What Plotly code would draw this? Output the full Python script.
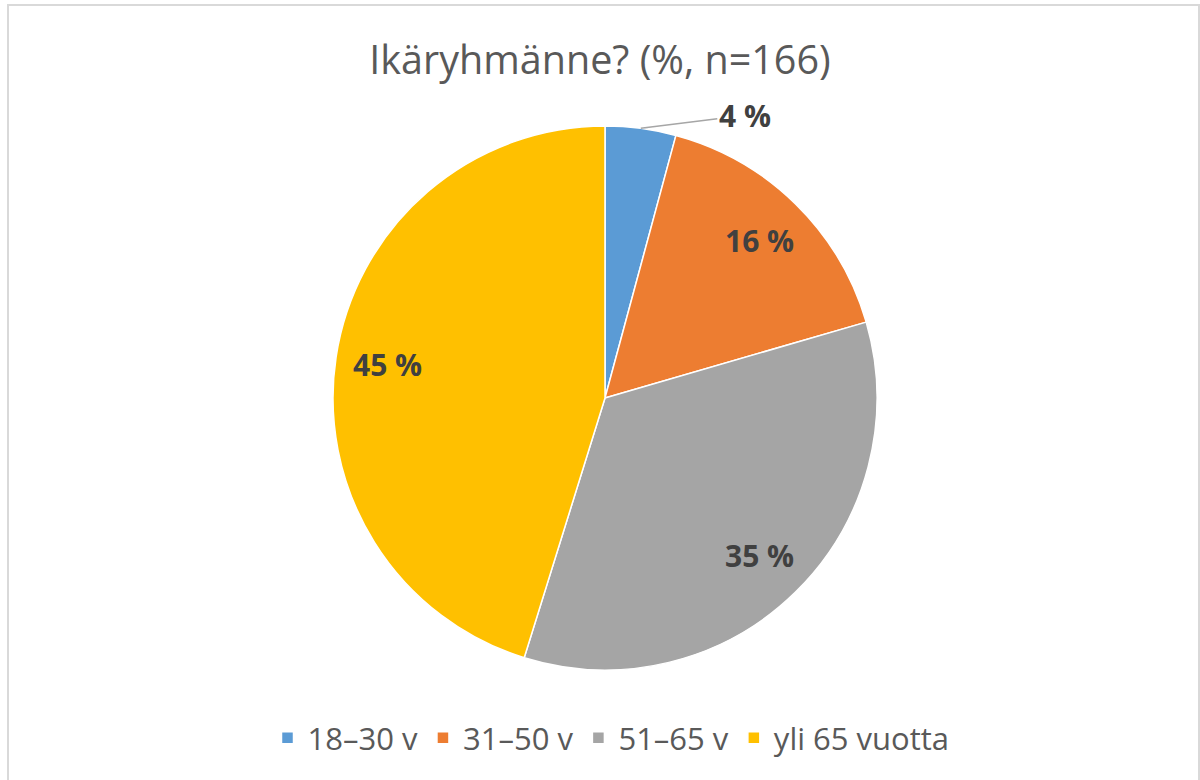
import math
import plotly.graph_objects as go

labels = ["18–30 v", "31–50 v", "51–65 v", "yli 65 vuotta"]
percents = [4.2, 16.3, 34.3, 45.2]          # slice sizes
text_labels = ["4 %", "16 %", "35 %", "45 %"]  # data labels as printed
colors = ["#5B9BD5", "#ED7D31", "#A5A5A5", "#FFC000"]
title_text = "Ikäryhmänne? (%, n=166)"

total = sum(percents)

W, H = 1200, 780
cx, cy, r = 605, 398, 272  # pie centre / radius in pixels

fig = go.Figure(go.Pie(
    labels=labels,
    values=percents,
    textinfo="none",
    marker=dict(colors=colors, line=dict(color="white", width=1.5)),
    sort=False,
    direction="clockwise",
    rotation=0,
    domain=dict(x=[(cx - r) / W, (cx + r) / W], y=[1 - (cy + r) / H, 1 - (cy - r) / H]),
    hoverinfo="label+percent",
))

# data labels placed along each slice's mid-angle (derived from the values)
label_font = dict(family="Open Sans", size=30, color="#404040", weight="bold")
annotations = []
cum = 0
for i, (v, t) in enumerate(zip(percents, text_labels)):
    mid = (cum + v / 2) / total * 2 * math.pi
    cum += v
    if i == 0:
        # small slice: label outside with leader line
        px = cx + r * math.sin(mid)
        py = cy - r * math.cos(mid)
        annotations.append(dict(
            x=px / W, y=1 - py / H, xref="paper", yref="paper",
            text=t, showarrow=True, arrowhead=0, arrowwidth=1.5, arrowcolor="#A6A6A6",
            ax=104, ay=-13, font=label_font, standoff=0,
        ))
    else:
        rr = 0.81 * r
        px = cx + rr * math.sin(mid)
        py = cy - rr * math.cos(mid)
        annotations.append(dict(
            x=px / W, y=1 - py / H, xref="paper", yref="paper",
            text=t, showarrow=False, font=label_font,
            xanchor="center", yanchor="middle",
        ))

fig.update_layout(
    width=W, height=H,
    margin=dict(l=0, r=0, t=0, b=0),
    paper_bgcolor="white",
    title=dict(text=title_text, x=0.5, xanchor="center", y=1 - 60 / H, yanchor="middle",
               font=dict(family="Open Sans", size=39.5, color="#595959")),
    legend=dict(orientation="h", x=611 / W, xanchor="center", y=1 - 738 / H, yanchor="middle",
                font=dict(family="Open Sans", size=31, color="#595959"),
                itemwidth=30, traceorder="normal"),
    annotations=annotations,
    shapes=[dict(type="rect", xref="paper", yref="paper",
                 x0=8 / W, x1=1199 / W, y0=-0.01, y1=1 - 5 / H,
                 line=dict(color="#D9D9D9", width=2), layer="below")],
)

fig.write_html("out.html", config={"displayModeBar": False},
               post_script="document.body.style.margin='0';")
